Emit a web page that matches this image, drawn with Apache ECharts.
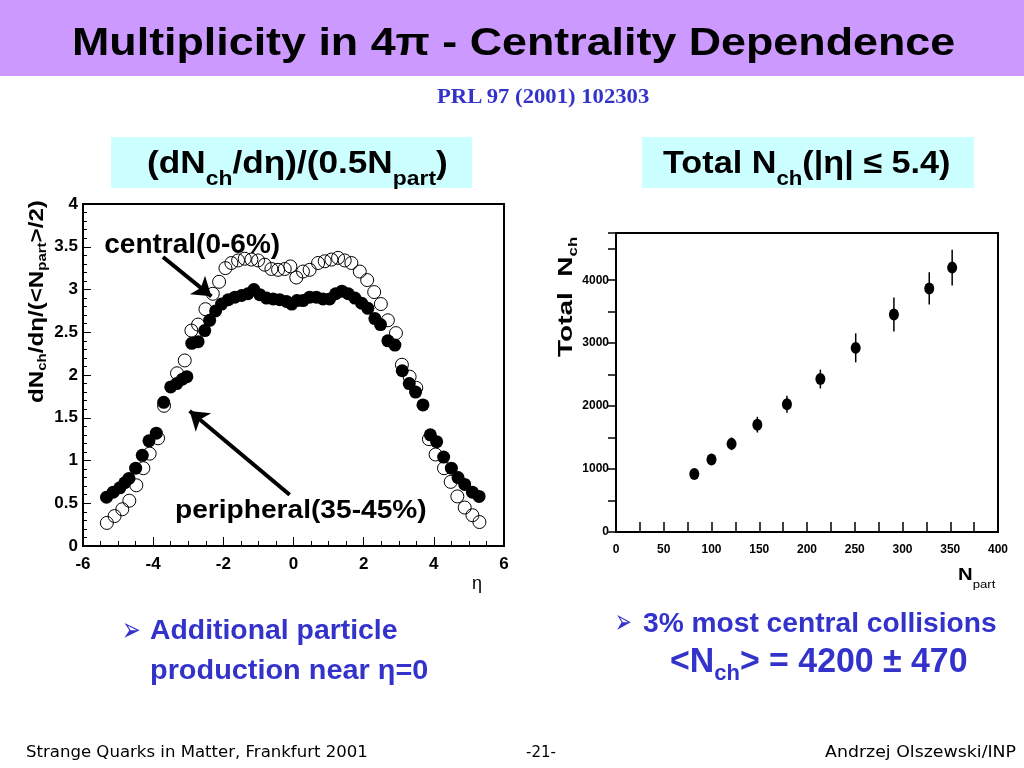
<!DOCTYPE html>
<html><head><meta charset="utf-8">
<script src="https://cdn.jsdelivr.net/npm/echarts@6/dist/echarts.min.js"></script>
<style>
html,body{margin:0;padding:0;background:#fff;width:1024px;height:768px;overflow:hidden;}
#band{position:absolute;left:0;top:0;width:1024px;height:76px;background:#cc99ff;}
.box{position:absolute;background:#ccffff;}
#chart{position:absolute;left:0;top:0;width:1024px;height:768px;}
.t{position:absolute;white-space:nowrap;transform-origin:0 0;}
</style></head><body>
<div id="band"></div>
<div class="box" style="left:111px;top:137px;width:361px;height:51px"></div>
<div class="box" style="left:642px;top:137px;width:332px;height:51px"></div>
<div id="chart"></div>
<div id="texts"></div>
<script>
// ---- data: left panel, dN/deta per participant pair ----
const centralEta = [-5.32,-5.10,-4.88,-4.68,-4.48,-4.28,-4.10,-3.86,-3.69,-3.32,-3.10,-2.91,-2.72,-2.51,-2.30,-2.12,-1.94,-1.77,-1.58,-1.39,-1.20,-1.01,-0.82,-0.63,-0.44,-0.25,-0.09,0.08,0.27,0.46,0.70,0.89,1.08,1.27,1.46,1.65,1.89,2.10,2.30,2.49,2.69,2.92,3.09,3.31,3.50,3.86,4.05,4.29,4.48,4.67,4.88,5.10,5.30];
const centralVal = [0.27,0.35,0.43,0.53,0.71,0.91,1.08,1.26,1.64,2.02,2.17,2.52,2.59,2.77,2.95,3.09,3.25,3.31,3.34,3.36,3.35,3.34,3.29,3.24,3.23,3.24,3.27,3.14,3.21,3.23,3.31,3.33,3.35,3.37,3.34,3.31,3.21,3.11,2.97,2.83,2.64,2.49,2.12,1.98,1.85,1.25,1.07,0.91,0.75,0.58,0.45,0.36,0.28];
const periphEta = [-5.33,-5.14,-4.95,-4.81,-4.69,-4.50,-4.31,-4.12,-3.91,-3.70,-3.50,-3.33,-3.17,-3.04,-2.90,-2.72,-2.53,-2.39,-2.22,-2.05,-1.86,-1.67,-1.48,-1.30,-1.13,-0.96,-0.77,-0.58,-0.39,-0.20,-0.05,0.10,0.27,0.46,0.65,0.84,1.03,1.20,1.38,1.56,1.75,1.94,2.12,2.32,2.48,2.69,2.89,3.10,3.30,3.48,3.69,3.90,4.08,4.28,4.50,4.69,4.88,5.10,5.29];
const periphVal = [0.57,0.63,0.68,0.74,0.79,0.91,1.06,1.23,1.32,1.68,1.86,1.90,1.95,1.98,2.37,2.39,2.52,2.64,2.75,2.83,2.88,2.91,2.93,2.95,3.00,2.94,2.90,2.89,2.88,2.86,2.83,2.87,2.87,2.91,2.91,2.89,2.89,2.95,2.98,2.95,2.90,2.84,2.78,2.66,2.59,2.40,2.35,2.05,1.90,1.80,1.65,1.30,1.22,1.04,0.91,0.80,0.72,0.63,0.58];
// annotation arrows (data coordinates: tail, head)
const arrowCentral = [[-3.72,3.38],[-2.34,2.92]];
const arrowPeriph = [[-0.11,0.60],[-2.96,1.58]];
// ---- data: right panel, total Nch vs Npart ----
const npart = [82,100,121,148,179,214,251,291,328,352];
const nchTotal = [920,1150,1400,1705,2030,2430,2925,3455,3870,4200];
const nchErr = [60,70,100,125,135,150,230,270,255,285];

const FF = '"Liberation Sans", Arial, sans-serif';
const chart = echarts.init(document.getElementById('chart'));
const lab = (size, extra) => Object.assign({color:'#000', fontWeight:'bold', fontSize:size, fontFamily:FF}, extra||{});
chart.setOption({
  animation:false,
  backgroundColor:'transparent',
  grid:[
    {left:83, top:204, width:421, height:342, show:true, borderColor:'#000', borderWidth:2, backgroundColor:'transparent'},
    {left:616, top:233, width:382, height:299, show:true, borderColor:'#000', borderWidth:2, backgroundColor:'transparent'}
  ],
  xAxis:[
    {type:'value', gridIndex:0, min:-6, max:6, interval:2,
     axisLine:{show:true, onZero:false, lineStyle:{color:'#000', width:2}},
     axisTick:{show:true, inside:true, length:9, lineStyle:{color:'#000', width:1}},
     minorTick:{show:true, splitNumber:4, length:5, lineStyle:{color:'#000', width:1}},
     splitLine:{show:false}, minorSplitLine:{show:false},
     axisLabel:lab(17, {margin:10, interval:0})},
    {type:'value', gridIndex:1, min:0, max:400, interval:25,
     axisLine:{show:true, onZero:false, lineStyle:{color:'#000', width:2}},
     axisTick:{show:true, inside:true, length:10, lineStyle:{color:'#000', width:1.5}},
     splitLine:{show:false},
     axisLabel:lab(12, {margin:12, interval:0, formatter:v => (v % 50 === 0 ? String(v) : '')})}
  ],
  yAxis:[
    {type:'value', gridIndex:0, min:0, max:4, interval:0.5,
     axisLine:{show:true, onZero:false, lineStyle:{color:'#000', width:2}},
     axisTick:{show:true, inside:true, length:8, lineStyle:{color:'#000', width:1}},
     minorTick:{show:true, splitNumber:5, length:4, lineStyle:{color:'#000', width:1}},
     splitLine:{show:false}, minorSplitLine:{show:false},
     axisLabel:lab(17, {margin:5, interval:0})},
    {type:'value', gridIndex:1, min:0, max:4750, interval:500,
     axisLine:{show:true, onZero:false, lineStyle:{color:'#000', width:2}},
     axisTick:{show:true, inside:false, length:8, lineStyle:{color:'#000', width:1.5}},
     splitLine:{show:false},
     axisLabel:lab(12, {margin:7, interval:0, formatter:v => (v % 1000 === 0 ? String(v) : '')})}
  ],
  series:[
    {type:'scatter', xAxisIndex:0, yAxisIndex:0, silent:true, z:2,
     data:centralEta.map((x,i)=>[x, centralVal[i]]),
     symbol:'circle', symbolSize:13,
     itemStyle:{color:'rgba(0,0,0,0)', borderColor:'#000', borderWidth:1, opacity:1},
     markLine:{silent:true, animation:false, symbol:['none','arrow'], symbolSize:18,
       label:{show:false}, emphasis:{disabled:true},
       lineStyle:{color:'#000', width:4, type:'solid', opacity:1},
       data:[[{coord:arrowCentral[0]},{coord:arrowCentral[1]}],[{coord:arrowPeriph[0]},{coord:arrowPeriph[1]}]]}},
    {type:'scatter', xAxisIndex:0, yAxisIndex:0, silent:true, z:3,
     data:periphEta.map((x,i)=>[x, periphVal[i]]),
     symbol:'circle', symbolSize:13, itemStyle:{color:'#000', opacity:1}},
    {type:'custom', xAxisIndex:1, yAxisIndex:1, silent:true, z:2,
     data:npart.map((x,i)=>[x, nchTotal[i], nchErr[i]]),
     encode:{x:0, y:1},
     renderItem:function(params, api){
       const x = api.value(0), y = api.value(1), e = api.value(2);
       const p1 = api.coord([x, y - e]), p2 = api.coord([x, y + e]);
       return {type:'line', shape:{x1:p1[0], y1:p1[1], x2:p2[0], y2:p2[1]}, style:{stroke:'#000', lineWidth:1.5}};
     }},
    {type:'scatter', xAxisIndex:1, yAxisIndex:1, silent:true, z:3,
     data:npart.map((x,i)=>[x, nchTotal[i]]),
     symbol:'circle', symbolSize:[10,12], itemStyle:{color:'#000', opacity:1}}
  ]
});

// ---- slide text (real HTML text, stretched to the reference widths) ----
const BL = '#3333cc';
const sub = (t, size, top, w) => '<span style="position:relative;font-size:'+size+'em;top:'+top+'em;'+(w?'font-weight:'+w+';':'')+'">'+t+'</span>';
const T = [
  {h:'Multiplicity in 4π - Centrality Dependence', f:'bold 38px '+FF, c:'#000', x:72, b:55, w:883},
  {h:'PRL 97 (2001) 102303', f:'bold 20px "Liberation Serif", serif', c:BL, x:437, b:103.3, w:212},
  {h:'(dN'+sub('ch',0.65,0.63)+'/dη)/(0.5N'+sub('part',0.65,0.63)+')', f:'bold 31px '+FF, c:'#000', x:147, b:172.5, w:301},
  {h:'Total N'+sub('ch',0.65,0.63)+'(|η| ≤ 5.4)', f:'bold 31px '+FF, c:'#000', x:663, b:172.5, w:288},
  {h:'dN'+sub('ch',0.62,0.25)+'/dη/(&lt;N'+sub('part',0.62,0.25)+'&gt;/2)', f:'bold 20px '+FF, c:'#000', x:43.3, b:403, w:203, r:true},
  {h:'Total&nbsp;&nbsp;N'+sub('ch',0.6,0.4), f:'bold 21px '+FF, c:'#000', x:571.7, b:356.7, w:120, r:true},
  {h:'central(0-6%)', f:'bold 28px '+FF, c:'#000', x:104.3, b:253.3, w:176},
  {h:'peripheral(35-45%)', f:'bold 25px '+FF, c:'#000', x:175, b:518.3, w:252},
  {h:'η', f:'18px '+FF, c:'#000', x:472, b:589, w:10},
  {h:'N'+sub('part',0.65,0.7,'normal'), f:'bold 17px '+FF, c:'#000', x:958, b:580, w:37},
  {h:'➢', f:'34px "DejaVu Sans", sans-serif', c:BL, x:122, b:641, w:19},
  {h:'Additional particle', f:'bold 27px '+FF, c:BL, x:150.3, b:639.3, w:248},
  {h:'production near η=0', f:'bold 27px '+FF, c:BL, x:150.3, b:679.3, w:278},
  {h:'➢', f:'34px "DejaVu Sans", sans-serif', c:BL, x:615, b:633, w:17},
  {h:'3% most central collisions', f:'bold 28px '+FF, c:BL, x:642.7, b:631.7, w:354},
  {h:'&lt;N'+sub('ch',0.65,0.36)+'&gt; = 4200 ± 470', f:'bold 35px '+FF, c:BL, x:670, b:671.7, w:298},
  {h:'Strange Quarks in Matter, Frankfurt 2001', f:'15px "DejaVu Sans", sans-serif', c:'#000', x:26, b:756.7, w:342},
  {h:'-21-', f:'15px "DejaVu Sans", sans-serif', c:'#000', x:526, b:756.7, w:30},
  {h:'Andrzej Olszewski/INP', f:'15px "DejaVu Sans", sans-serif', c:'#000', x:825, b:756.7, w:191}
];
const cont = document.getElementById('texts');
T.forEach(s => {
  const d = document.createElement('div');
  d.className = 't';
  d.style.font = s.f;
  d.style.lineHeight = '1';
  d.style.color = s.c;
  d.innerHTML = s.h + '<span style="display:inline-block;width:0;height:0;vertical-align:baseline"></span>';
  cont.appendChild(d);
  const bo = d.lastChild.offsetTop;
  const k = s.w / d.offsetWidth;
  d.style.left = s.x + 'px';
  d.style.top = (s.b - bo) + 'px';
  d.style.transformOrigin = '0 ' + bo + 'px';
  d.style.transform = (s.r ? 'rotate(-90deg) ' : '') + 'scaleX(' + k + ')';
});
</script>
</body></html>
